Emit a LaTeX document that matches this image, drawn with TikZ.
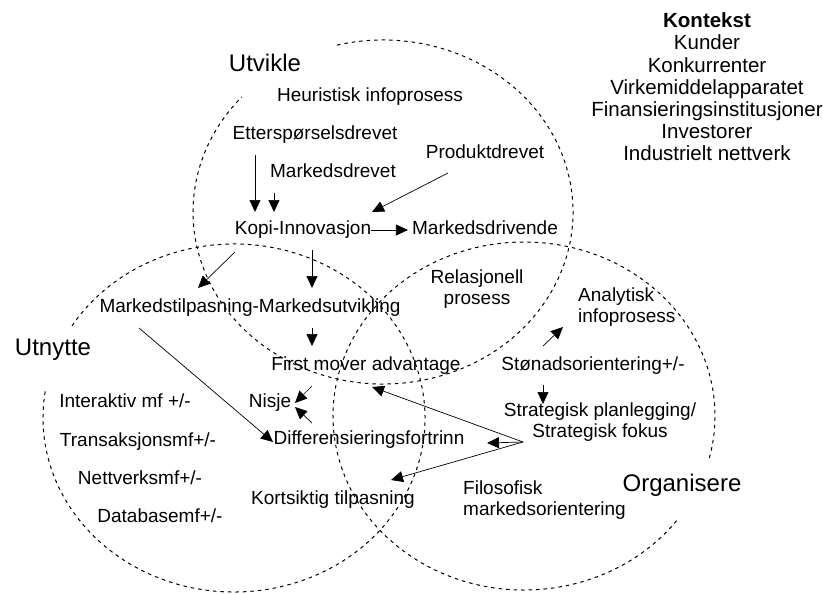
\documentclass[tikz,border=0pt]{standalone}
\usepackage{fontspec}
\setmainfont{Liberation Sans}
\usetikzlibrary{arrows.meta}

\tikzset{
  txt/.style={inner sep=0pt, text height=13.5pt, text depth=4pt, font=\fontsize{19}{21.5}\selectfont},
  big/.style={inner sep=0pt, font=\fontsize{24}{28}\selectfont},
  ring/.style={dash pattern=on 3.5pt off 4pt, line width=1pt},
  arr/.style={-{Triangle[length=12pt,width=11pt]}, line width=0.7pt},
}

\begin{document}
\begin{tikzpicture}[x=1pt,y=-1pt]
    \useasboundingbox (0,0) rectangle (823,594);

    % the three circles
    \coordinate (U) at (383,212);
    \coordinate (N) at (234,418);
    \coordinate (O) at (524,416);
    \draw[ring] (U) ++(256:190 and 172) arc[start angle=256, end angle=582, x radius=190, y radius=172];
    \draw[ring] (N) ++(212:191 and 174) arc[start angle=212, end angle=550, x radius=191, y radius=174];
    \draw[ring] (O) ++(37:191 and 174) arc[start angle=37, end angle=374, x radius=191, y radius=174];

    % headings
    \node[big] (utvikle) at (265,63) {Utvikle};
    \node[big] (utnytte) at (53,350) {Utnytte};
    \node[big] (organisere) at (682,485) {Organisere};

    \node[inner sep=0pt, align=center, font=\fontsize{20.5}{22.2}\selectfont] (kontekst) at (707,87)
        {\textbf{Kontekst}\\Kunder\\Konkurrenter\\Virkemiddelapparatet\\Finansieringsinstitusjoner\\Investorer\\Industrielt nettverk};

    % Utvikle
    \node[txt] (heur) at (370,97) {Heuristisk infoprosess};
    \node[txt] (ett) at (315,135) {Etterspørselsdrevet};
    \node[txt] (mdrev) at (333,173) {Markedsdrevet};
    \node[txt] (prod) at (485,154) {Produktdrevet};
    \node[txt] (kopi) at (303,230) {Kopi-Innovasjon};
    \node[txt] (mdriv) at (485,230) {Markedsdrivende};

    % middle
    \node[txt] (mtil) at (250,308) {Markedstilpasning-Markedsutvikling};
    \node[txt, align=center] (rel) at (477,300) {Relasjonell\\prosess};
    \node[txt] (first) at (366,366) {First mover advantage};
    \node[txt] (nisje) at (270,403) {Nisje};
    \node[txt] (diff) at (369,440) {Differensieringsfortrinn};
    \node[txt] (kort) at (333,500) {Kortsiktig tilpasning};

    % Organisere
    \node[txt, align=left, anchor=west] (ana) at (578,318) {Analytisk\\infoprosess};
    \node[txt] (stoen) at (593,366) {Stønadsorientering+/-};
    \node[txt, align=center] (strat) at (600,433) {Strategisk planlegging/\\Strategisk fokus};
    \node[txt, align=left, anchor=west] (filo) at (463,511) {Filosofisk\\markedsorientering};

    % Utnytte
    \node[txt] (inter) at (125,403) {Interaktiv mf +/-};
    \node[txt] (trans) at (138,442) {Transaksjonsmf+/-};
    \node[txt] (nett) at (140,480) {Nettverksmf+/-};
    \node[txt] (data) at (160,518) {Databasemf+/-};

    % arrow ends
    \coordinate (e1) at (255,155);  \coordinate (k1) at (255,212);
    \coordinate (e2) at (274,193);  \coordinate (k2) at (274,212);
    \coordinate (p1) at (448,173);  \coordinate (k3) at (372,212);
    \coordinate (k4) at (235,252);  \coordinate (m1) at (198,288);
    \coordinate (k5) at (312,250);  \coordinate (m2) at (312,288);
    \coordinate (m3) at (312,328);  \coordinate (f1) at (312,346);
    \coordinate (m4) at (139,328);  \coordinate (d1) at (273,442);
    \coordinate (f2) at (312,386);  \coordinate (n1) at (295,403);
    \coordinate (d2) at (312,423);  \coordinate (n2) at (295,407);
    \coordinate (S) at (523,442);
    \coordinate (f3) at (372,387);
    \coordinate (d3) at (487,443);
    \coordinate (t1) at (391,480);
    \coordinate (s1) at (543,346);  \coordinate (a1) at (563,327);
    \coordinate (s2) at (543,385);  \coordinate (g1) at (543,404);

    \draw[arr] (e1) -- (k1);
    \draw[arr] (e2) -- (k2);
    \draw[arr] (p1) -- (k3);
    \draw[arr] (kopi.east) -- ([xshift=-4pt]mdriv.west);
    \draw[arr] (k4) -- (m1);
    \draw[arr] (k5) -- (m2);
    \draw[arr] (m3) -- (f1);
    \draw[arr] (m4) -- (d1);
    \draw[arr] (f2) -- (n1);
    \draw[arr] (d2) -- (n2);
    \draw[arr] (S) -- (f3);
    \draw[arr] (S) -- (d3);
    \draw[arr] (S) -- (t1);
    \draw[arr] (s1) -- (a1);
    \draw[arr] (s2) -- (g1);
\end{tikzpicture}
\end{document}
